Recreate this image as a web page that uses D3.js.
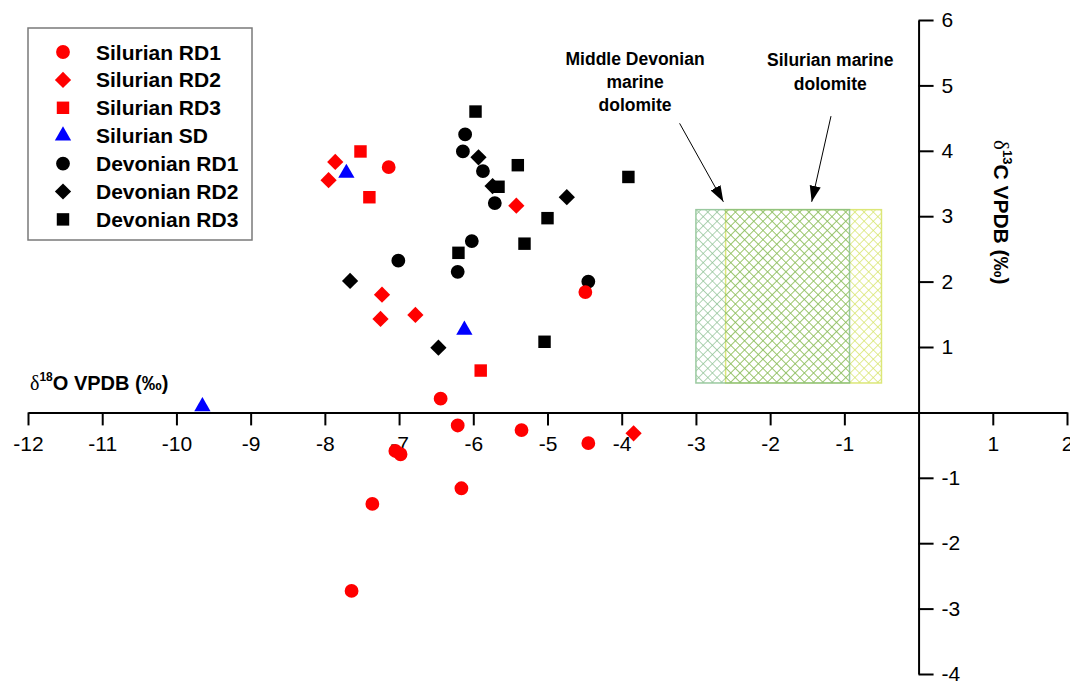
<!DOCTYPE html>
<html>
<head>
<meta charset="utf-8">
<script src="https://d3js.org/d3.v7.min.js"></script>
<style>
  body { margin: 0; background: white; }
  text { font-family: "Liberation Sans", Arial, sans-serif; }
</style>
</head>
<body>
<div id="chart"></div>
<script>
const sizing = { width: 1070, height: 682 }

// d18O, d13C pairs
const silurianRD1 = [[-7.14,3.75],[-4.49,1.84],[-6.44,0.21],[-6.21,-0.20],[-5.35,-0.27],[-4.45,-0.47],
                     [-7.05,-0.59],[-6.98,-0.64],[-6.16,-1.16],[-7.36,-1.40],[-7.64,-2.73]]
const silurianRD2 = [[-7.86,3.83],[-7.95,3.55],[-5.42,3.16],[-7.23,1.80],[-7.25,1.43],[-6.78,1.49],[-3.84,-0.32]]
const silurianRD3 = [[-7.52,3.99],[-7.40,3.29],[-5.90,0.64]]
const silurianSD  = [[-7.71,3.66],[-6.12,1.26],[-9.65,0.09]]
const devonianRD1 = [[-6.11,4.25],[-6.14,3.99],[-5.87,3.69],[-5.71,3.20],[-6.02,2.62],[-6.21,2.15],[-7.01,2.32],[-4.45,2.00]]
const devonianRD2 = [[-5.93,3.90],[-5.74,3.46],[-4.74,3.29],[-7.66,2.01],[-6.47,0.99]]
const devonianRD3 = [[-5.97,4.60],[-5.40,3.78],[-5.66,3.45],[-3.91,3.60],[-5.00,2.97],[-5.31,2.58],[-6.20,2.44],[-5.04,1.08]]

const seriesNames = ["Silurian RD1","Silurian RD2","Silurian RD3","Silurian SD","Devonian RD1","Devonian RD2","Devonian RD3"]

// marine dolomite fields: [xmin, xmax, ymin, ymax]
const devonianField = [-3.0, -0.93, 0.45, 3.1]
const silurianField = [-2.6, -0.5, 0.45, 3.1]

const xTicks = [-12,-11,-10,-9,-8,-7,-6,-5,-4,-3,-2,-1,1,2]
const yTicks = [-4,-3,-2,-1,1,2,3,4,5,6]

const series = [
    {name: "Devonian RD1", data: devonianRD1, shape: "circle", color: "black"},
    {name: "Devonian RD2", data: devonianRD2, shape: "diamond", color: "black"},
    {name: "Devonian RD3", data: devonianRD3, shape: "square", color: "black"},
    {name: "Silurian RD1", data: silurianRD1, shape: "circle", color: "#ff0000"},
    {name: "Silurian RD2", data: silurianRD2, shape: "diamond", color: "#ff0000"},
    {name: "Silurian RD3", data: silurianRD3, shape: "square", color: "#ff0000"},
    {name: "Silurian SD", data: silurianSD, shape: "triangle", color: "#0000ff"}
]

const svg = d3.select("#chart").append("svg")
    .attr("width", sizing.width)
    .attr("height", sizing.height)

const x = d3.scaleLinear().domain([-12, 2]).range([28, 1067])
const y = d3.scaleLinear().domain([-4, 6]).range([674, 20])

const defs = svg.append("defs")
function hatch(id, color) {
    const p = defs.append("pattern")
        .attr("id", id)
        .attr("patternUnits", "userSpaceOnUse")
        .attr("width", 6.5).attr("height", 6.5)
        .attr("patternTransform", "rotate(45)")
    p.append("line").attr("x1", 0).attr("y1", 0).attr("x2", 6.5).attr("y2", 0)
        .attr("stroke", color).attr("stroke-width", 1.3)
    p.append("line").attr("x1", 0).attr("y1", 0).attr("x2", 0).attr("y2", 6.5)
        .attr("stroke", color).attr("stroke-width", 1.3)
}
hatch("hatchYellow", "#cfdf4a")
hatch("hatchGreen", "#5fa868")

defs.append("marker")
    .attr("id", "arrow")
    .attr("viewBox", "0 0 10 10")
    .attr("refX", 10).attr("refY", 5)
    .attr("markerWidth", 16).attr("markerHeight", 16)
    .attr("markerUnits", "userSpaceOnUse")
    .attr("orient", "auto")
    .append("path")
    .attr("d", "M0,1.5 L10,5 L0,8.5 Z")
    .attr("fill", "black")

// fields
const fields = svg.append("g")
function field(f, fill, stroke, op) {
    fields.append("rect")
        .attr("x", x(f[0])).attr("width", x(f[1]) - x(f[0]))
        .attr("y", y(f[3])).attr("height", y(f[2]) - y(f[3]))
        .attr("fill", "url(#" + fill + ")")
        .attr("stroke", stroke).attr("stroke-width", 1.5)
        .attr("opacity", op)
}
field(silurianField, "hatchYellow", "#d9e56a", 0.9)
field(devonianField, "hatchGreen", "#79b880", 0.75)

// axes
const fmt = d => String(d)
const xAxis = svg.append("g").attr("transform", `translate(0,${y(0)})`)
xAxis.call(d3.axisBottom(x).tickValues(d3.range(-11.5, 2, 1)).tickSize(7).tickSizeOuter(0).tickFormat(""))
xAxis.call(d3.axisBottom(x).tickValues(xTicks).tickSize(13).tickSizeOuter(0).tickPadding(11).tickFormat(fmt))
xAxis.selectAll("path.domain").attr("stroke-width", 2)
xAxis.selectAll(".tick line").attr("stroke-width", 2)
xAxis.selectAll(".tick text").attr("font-size", 21).attr("font-family", "Liberation Sans, Arial").attr("fill", "black")

const yAxis = svg.append("g").attr("transform", `translate(${x(0)},0)`)
yAxis.call(d3.axisRight(y).tickValues(d3.range(-3.5, 6, 1)).tickSize(8).tickSizeOuter(0).tickFormat(""))
yAxis.call(d3.axisRight(y).tickValues(yTicks).tickSize(15).tickSizeOuter(0).tickPadding(8).tickFormat(fmt))
yAxis.selectAll("path.domain").attr("stroke-width", 2)
yAxis.selectAll(".tick line").attr("stroke-width", 2)
yAxis.selectAll(".tick text").attr("font-size", 21).attr("font-family", "Liberation Sans, Arial").attr("fill", "black")

// axis titles
const xTitle = svg.append("text")
    .attr("x", 30).attr("y", 390)
    .attr("font-size", 20).attr("font-weight", "bold")
xTitle.append("tspan").text("δ").attr("font-family", "Liberation Serif").attr("font-weight", "normal")
xTitle.append("tspan").text("18").attr("font-size", 12).attr("dy", -9)
xTitle.append("tspan").text("O VPDB (‰)").attr("dy", 9)

const yTitle = svg.append("text")
    .attr("transform", "translate(994,140) rotate(90)")
    .attr("font-size", 21).attr("font-weight", "bold")
yTitle.append("tspan").text("δ").attr("font-family", "Liberation Serif").attr("font-weight", "normal")
yTitle.append("tspan").text("13").attr("font-size", 13).attr("dy", -9)
yTitle.append("tspan").text("C VPDB (‰)").attr("dy", 9)

// markers
function sym(shape) {
    if (shape === "circle") return d3.symbol(d3.symbolCircle, 150)()
    if (shape === "square") return d3.symbol(d3.symbolSquare, 155)()
    if (shape === "diamond") return d3.symbol(d3.symbolSquare, 132)()
    return d3.symbol(d3.symbolTriangle, 115)()
}
const points = svg.append("g")
series.forEach(s => {
    points.append("g").selectAll("path")
        .data(s.data)
        .join("path")
        .attr("d", sym(s.shape))
        .attr("fill", s.color)
        .attr("transform", d => `translate(${x(d[0])},${y(d[1])})` + (s.shape === "diamond" ? " rotate(45)" : ""))
})

// annotations
const notes = svg.append("g").attr("font-size", 17.5).attr("font-weight", "bold").attr("text-anchor", "middle")
const devLines = ["Middle Devonian", "marine", "dolomite"]
const silLines = ["Silurian marine", "dolomite"]
notes.selectAll("text.dev").data(devLines).join("text")
    .attr("class", "dev")
    .attr("x", x(-3.82)).attr("y", (d, i) => 65 + i * 23)
    .text(d => d)
notes.selectAll("text.sil").data(silLines).join("text")
    .attr("class", "sil")
    .attr("x", x(-1.19)).attr("y", (d, i) => 66 + i * 24)
    .text(d => d)

const arrows = [[[-3.22, 4.42], [-2.63, 3.22]], [[-1.18, 4.53], [-1.44, 3.22]]]
svg.append("g").selectAll("line").data(arrows).join("line")
    .attr("x1", d => x(d[0][0])).attr("y1", d => y(d[0][1]))
    .attr("x2", d => x(d[1][0])).attr("y2", d => y(d[1][1]))
    .attr("stroke", "black").attr("stroke-width", 1)
    .attr("marker-end", "url(#arrow)")

// legend
const legend = svg.append("g")
legend.append("rect")
    .attr("x", 28).attr("y", 28).attr("width", 224).attr("height", 212)
    .attr("fill", "white").attr("stroke", "#7a7a7a").attr("stroke-width", 1.5)
const legendItems = seriesNames.map(n => series.find(s => s.name === n))
const rows = legend.selectAll("g.row").data(legendItems).join("g")
    .attr("class", "row")
    .attr("transform", (d, i) => `translate(0,${52 + i * 27.9})`)
rows.append("path")
    .attr("d", d => sym(d.shape))
    .attr("fill", d => d.color)
    .attr("transform", d => "translate(63,0)" + (d.shape === "diamond" ? " rotate(45)" : ""))
rows.append("text")
    .attr("x", 96).attr("dy", "0.36em")
    .attr("font-size", 21).attr("font-weight", "bold")
    .text(d => d.name)
</script>
</body>
</html>
